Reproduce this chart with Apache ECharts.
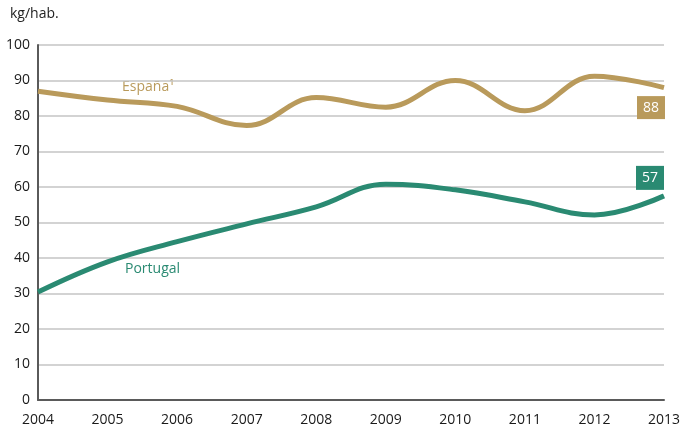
<!DOCTYPE html>
<html>
<head>
<meta charset="utf-8">
<script src="https://cdn.jsdelivr.net/npm/echarts@6/dist/echarts.min.js"></script>
<style>
  html, body { margin: 0; padding: 0; background: #fff; }
  #chart { width: 683px; height: 431px; }
</style>
</head>
<body>
<div id="chart"></div>
<script>
var years = ['2004', '2005', '2006', '2007', '2008', '2009', '2010', '2011', '2012', '2013'];
var espana = [87, 84.5, 82.7, 77.3, 85.2, 82.5, 90, 81.5, 91.2, 88];
var portugal = [30.4, 38.9, 44.6, 49.6, 54.4, 60.8, 59.2, 55.8, 52.1, 57.5];
var espanaEnd = 88;
var portugalEnd = 57;

var gold = '#B99A5B';
var green = '#2A8A72';
var font = 'Open Sans';

var chart = echarts.init(document.getElementById('chart'));

var option = {
  animation: false,
  textStyle: { fontFamily: font },
  grid: { left: 38, right: 18, top: 45, bottom: 31 },
  graphic: [
    { type: 'text', left: 10, top: 7, style: { text: 'kg/hab.', fontSize: 14, fill: '#222', fontFamily: font } },
    { type: 'text', left: 122, top: 80, style: { text: 'España¹', fontSize: 14, fill: gold, fontFamily: font } },
    { type: 'text', left: 125, top: 262, style: { text: 'Portugal', fontSize: 14, fill: green, fontFamily: font } }
  ],
  xAxis: {
    type: 'category',
    data: years,
    boundaryGap: false,
    axisLine: { lineStyle: { color: '#5a5a5a', width: 2 } },
    axisTick: { show: false },
    axisLabel: { color: '#1a1a1a', fontSize: 14, margin: 13 }
  },
  yAxis: {
    type: 'value',
    min: 0,
    max: 100,
    interval: 10,
    axisLine: { show: true, lineStyle: { color: '#5a5a5a', width: 2 } },
    axisTick: { show: false },
    axisLabel: { color: '#1a1a1a', fontSize: 14, margin: 8 },
    splitLine: { lineStyle: { color: '#c4c4c4', width: 1.5 } }
  },
  series: [
    {
      name: 'España',
      type: 'line',
      data: espana,
      smooth: 0.4,
      symbol: 'none',
      lineStyle: { color: gold, width: 5 },
      markPoint: {
        symbol: 'rect',
        symbolSize: [28, 23],
        symbolOffset: [-13, 20],
        itemStyle: { color: gold },
        label: { color: '#fff', fontSize: 14 },
        data: [{ coord: [9, espana[9]], value: espanaEnd }]
      }
    },
    {
      name: 'Portugal',
      type: 'line',
      data: portugal,
      smooth: 0.4,
      symbol: 'none',
      lineStyle: { color: green, width: 5 },
      markPoint: {
        symbol: 'rect',
        symbolSize: [28, 24],
        symbolOffset: [-14, -18],
        itemStyle: { color: green },
        label: { color: '#fff', fontSize: 14 },
        data: [{ coord: [9, portugal[9]], value: portugalEnd }]
      }
    }
  ]
};

chart.setOption(option);
</script>
</body>
</html>
